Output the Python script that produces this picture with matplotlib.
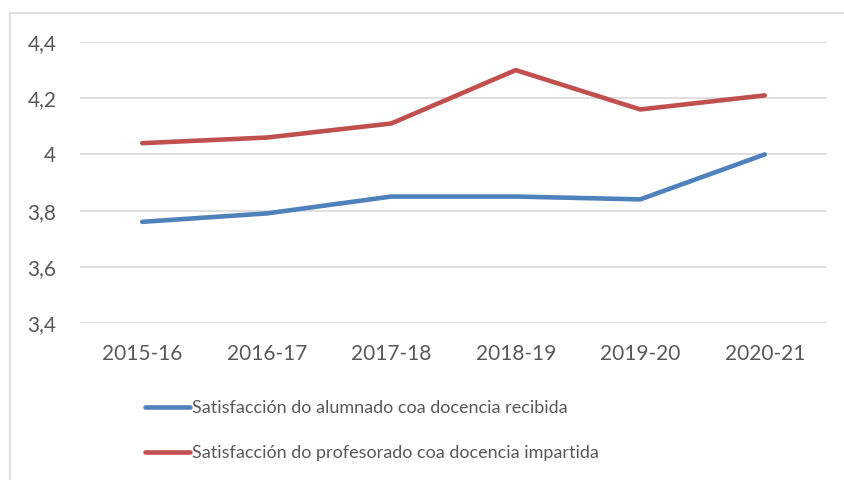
import matplotlib
matplotlib.use("Agg")
import matplotlib.pyplot as plt
from matplotlib.patches import Rectangle
from matplotlib.ticker import FuncFormatter

# datos do gráfico
cursos = ["2015-16", "2016-17", "2017-18", "2018-19", "2019-20", "2020-21"]
alumnado = [3.76, 3.79, 3.85, 3.85, 3.84, 4.00]
profesorado = [4.04, 4.06, 4.11, 4.30, 4.16, 4.21]
etiqueta_alumnado = "Satisfacción do alumnado coa docencia recibida"
etiqueta_profesorado = "Satisfacción do profesorado coa docencia impartida"

texto = "#595959"
plt.rcParams["font.family"] = ["Lato", "DejaVu Sans"]

fig = plt.figure(figsize=(8.45, 4.8), dpi=100)
ax = fig.add_axes([80 / 845, 1 - 323 / 480, 747 / 845, 281 / 480])

# marco exterior do gráfico (recortado á dereita e abaixo)
fig.patches.append(Rectangle((10 / 845, -0.1), 1.2, 1.1 - 13 / 480,
                             transform=fig.transFigure, fill=False,
                             edgecolor="#d9d9d9", linewidth=1.2))

x = list(range(len(cursos)))
l1, = ax.plot(x, alumnado, color="#4f81bd", linewidth=3.3,
              solid_capstyle="round", solid_joinstyle="round")
l2, = ax.plot(x, profesorado, color="#c0504d", linewidth=3.3,
              solid_capstyle="round", solid_joinstyle="round")

ax.set_xlim(-0.5, len(cursos) - 0.5)
ax.set_ylim(3.4, 4.4)
ax.set_yticks([3.4, 3.6, 3.8, 4.0, 4.2, 4.4])
ax.yaxis.set_major_formatter(FuncFormatter(
    lambda v, p: ("%g" % round(v, 1)).replace(".", ",")))
ax.set_xticks(x)
ax.set_xticklabels(cursos)
ax.grid(axis="y", color="#d9d9d9", linewidth=1.2)
ax.set_axisbelow(True)
for s in ax.spines.values():
    s.set_visible(False)
ax.tick_params(length=0, labelcolor=texto, labelsize=15)
ax.tick_params(axis="y", pad=17)
ax.tick_params(axis="x", pad=15)

fig.legend([l1, l2], [etiqueta_alumnado, etiqueta_profesorado],
           loc="upper left", bbox_to_anchor=(145 / 845, 1 - 400 / 480),
           frameon=False, handlelength=2.5, handletextpad=0.12,
           labelspacing=1.6, fontsize=13, labelcolor=texto,
           borderaxespad=0, borderpad=0)

fig.savefig("out.png", dpi=100)
